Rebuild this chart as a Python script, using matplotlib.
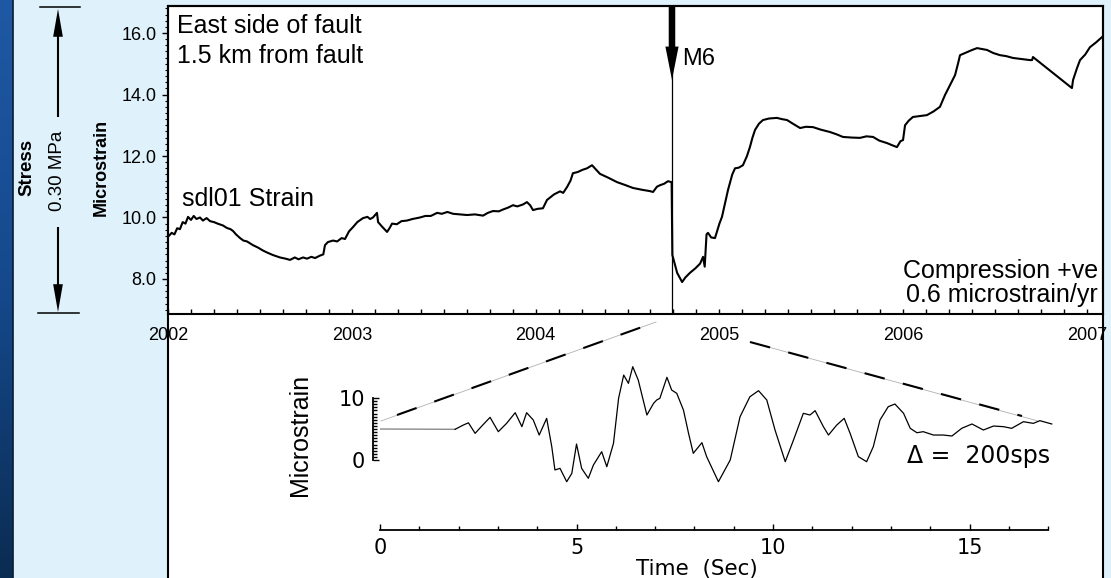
import matplotlib.pyplot as plt
import numpy as np
from matplotlib.patches import Rectangle, FancyArrowPatch
from matplotlib.colors import LinearSegmentedColormap
from matplotlib.ticker import MultipleLocator, FixedLocator, FormatStrFormatter
from matplotlib.transforms import blended_transform_factory

plt.rcParams['font.family'] = ['Liberation Sans', 'DejaVu Sans']

# sdl01 strain record (decimal year, microstrain)
years = [2002.000, 2002.020, 2002.035, 2002.050, 2002.065, 2002.080, 2002.095, 2002.109,
         2002.125, 2002.140, 2002.155, 2002.174, 2002.190, 2002.210, 2002.229, 2002.250,
         2002.270, 2002.299, 2002.320, 2002.340, 2002.354, 2002.370, 2002.392, 2002.410,
         2002.430, 2002.462, 2002.490, 2002.515, 2002.539, 2002.570, 2002.590, 2002.609,
         2002.640, 2002.664, 2002.690, 2002.710, 2002.735, 2002.756, 2002.780, 2002.800,
         2002.827, 2002.845, 2002.854, 2002.870, 2002.898, 2002.920, 2002.945, 2002.963,
         2002.985, 2003.007, 2003.030, 2003.061, 2003.085, 2003.100, 2003.115, 2003.137,
         2003.143, 2003.165, 2003.192, 2003.205, 2003.219, 2003.245, 2003.270, 2003.300,
         2003.330, 2003.371, 2003.400, 2003.430, 2003.464, 2003.490, 2003.520, 2003.551,
         2003.590, 2003.627, 2003.670, 2003.714, 2003.740, 2003.768, 2003.800, 2003.823,
         2003.850, 2003.877, 2003.900, 2003.930, 2003.953, 2003.970, 2003.986, 2004.010,
         2004.040, 2004.062, 2004.100, 2004.133, 2004.150, 2004.171, 2004.190, 2004.203,
         2004.230, 2004.255, 2004.280, 2004.307, 2004.330, 2004.350, 2004.400, 2004.443,
         2004.490, 2004.530, 2004.580, 2004.620, 2004.639, 2004.660, 2004.677, 2004.700,
         2004.720, 2004.740,
         2004.744, 2004.770, 2004.797, 2004.815, 2004.840, 2004.870, 2004.895, 2004.911,
         2004.920, 2004.930, 2004.938, 2004.955, 2004.976, 2005.000, 2005.014, 2005.030,
         2005.047, 2005.070, 2005.085, 2005.105, 2005.128, 2005.150, 2005.166, 2005.180,
         2005.194, 2005.215, 2005.237, 2005.270, 2005.313, 2005.340, 2005.368, 2005.400,
         2005.439, 2005.470, 2005.509, 2005.550, 2005.602, 2005.640, 2005.672, 2005.720,
         2005.765, 2005.800, 2005.836, 2005.870, 2005.912, 2005.940, 2005.966, 2005.985,
         2005.999, 2006.010, 2006.030, 2006.053, 2006.090, 2006.129, 2006.165, 2006.200,
         2006.227, 2006.255, 2006.282, 2006.300, 2006.309, 2006.347, 2006.375, 2006.402,
         2006.430, 2006.456, 2006.490, 2006.527, 2006.560, 2006.597, 2006.650, 2006.690,
         2006.701, 2006.706, 2006.918, 2006.924, 2006.945, 2006.962, 2006.990, 2007.016,
         2007.050, 2007.082]
strain = [9.37, 9.50, 9.45, 9.65, 9.62, 9.85, 9.80, 10.02,
          9.92, 10.05, 9.95, 10.00, 9.90, 9.98, 9.88, 9.85,
          9.80, 9.74, 9.66, 9.62, 9.56, 9.45, 9.33, 9.25,
          9.22, 9.10, 9.02, 8.93, 8.86, 8.78, 8.74, 8.70,
          8.66, 8.62, 8.70, 8.64, 8.70, 8.66, 8.72, 8.68,
          8.76, 8.80, 9.10, 9.20, 9.25, 9.22, 9.33, 9.30,
          9.55, 9.69, 9.85, 9.98, 10.02, 9.95, 10.00, 10.15,
          9.85, 9.70, 9.53, 9.65, 9.80, 9.78, 9.88, 9.90,
          9.95, 10.00, 10.05, 10.05, 10.15, 10.12, 10.18, 10.12,
          10.10, 10.08, 10.10, 10.06, 10.15, 10.21, 10.20, 10.26,
          10.32, 10.40, 10.36, 10.42, 10.50, 10.40, 10.24, 10.28,
          10.30, 10.57, 10.75, 10.85, 10.80, 10.99, 11.20, 11.44,
          11.48, 11.55, 11.60, 11.70, 11.55, 11.42, 11.28, 11.15,
          11.05, 10.96, 10.90, 10.86, 10.83, 11.00, 11.05, 11.10,
          11.18, 11.15,
          8.78, 8.20, 7.90, 8.05, 8.20, 8.35, 8.50, 8.72,
          8.40, 9.45, 9.50, 9.35, 9.33, 9.80, 10.02, 10.45,
          10.90, 11.40, 11.60, 11.62, 11.70, 12.00, 12.29, 12.60,
          12.85, 13.05, 13.17, 13.22, 13.24, 13.20, 13.17, 13.05,
          12.91, 12.95, 12.94, 12.86, 12.78, 12.70, 12.62, 12.60,
          12.59, 12.64, 12.62, 12.50, 12.42, 12.35, 12.29, 12.48,
          12.52, 13.00, 13.15, 13.27, 13.30, 13.33, 13.45, 13.60,
          13.98, 14.31, 14.63, 15.05, 15.28, 15.38, 15.45, 15.51,
          15.48, 15.45, 15.35, 15.28, 15.25, 15.19, 15.15, 15.12,
          15.12, 15.22, 14.21, 14.47, 14.85, 15.12, 15.30, 15.54,
          15.70, 15.87]
quake_year = 2004.742
year_ticks = [2002, 2003, 2004, 2005, 2006, 2007]

# 200 sps record of the M6 (seconds, microstrain)
seis_t = [0.00, 1.91, 2.12, 2.25, 2.42, 2.59, 2.80, 3.01, 3.22, 3.44, 3.61, 3.73, 3.90,
          4.05, 4.24, 4.37, 4.45, 4.58, 4.75, 4.88, 5.00, 5.13, 5.30, 5.43, 5.64, 5.77,
          5.94, 6.07, 6.20, 6.32, 6.43, 6.57, 6.79, 6.96, 7.04, 7.12, 7.30, 7.42, 7.55,
          7.72, 7.85, 7.97, 8.19, 8.31, 8.61, 8.91, 9.16, 9.41, 9.63, 9.84, 10.05, 10.31,
          10.52, 10.77, 10.94, 11.07, 11.28, 11.41, 11.62, 11.81, 11.96, 12.17, 12.38,
          12.55, 12.72, 12.93, 13.10, 13.32, 13.49, 13.66, 13.82, 14.08, 14.33, 14.55,
          14.80, 15.06, 15.35, 15.61, 15.86, 16.07, 16.37, 16.62, 16.79, 17.09]
seis_v = [5.0, 4.95, 5.64, 6.00, 4.30, 5.48, 6.88, 4.57, 5.91, 7.63, 5.38, 7.63, 6.45,
          4.03, 6.72, 2.15, -1.60, -1.35, -3.50, -2.15, 2.58, -1.35, -2.95, -0.80, 1.34, -1.08,
          2.69, 9.95, 13.70, 12.37, 15.05, 12.90, 7.26, 9.14, 9.68, 9.95, 13.34, 11.29, 10.75,
          8.06, 4.30, 1.08, 2.80, 0.54, -3.50, 0.00, 6.98, 10.20, 11.18, 9.68, 4.84, -0.27,
          3.23, 7.53, 7.26, 7.96, 5.38, 4.03, 5.64, 6.72, 4.30, 0.54, -0.27,
          2.15, 6.45, 8.60, 9.03, 7.53, 5.11, 4.40, 4.57, 4.03, 4.03, 3.87,
          5.11, 5.81, 4.84, 5.48, 5.38, 5.11, 6.18, 5.91, 6.34, 5.81]
sec_ticks = [0, 5, 10, 15]

W, H = 1111, 578
fig = plt.figure(figsize=(W / 100, H / 100), dpi=100)

# background layer in pixel coordinates
bg = fig.add_axes([0, 0, 1, 1], zorder=0)
bg.add_patch(Rectangle((0, 0), W, H, color='#dff1fb', zorder=0))
strip = LinearSegmentedColormap.from_list('strip', ['#1f58a4', '#15498c', '#0b2c52'])
bg.imshow(np.linspace(0, 1, 256).reshape(-1, 1), extent=(0, 13, H, 0),
          aspect='auto', cmap=strip, zorder=1)
bg.plot([13, 13], [0, H], color='#0a1c33', lw=1.2, zorder=2)
bg.add_patch(Rectangle((168, 6), 1103 - 168, H, facecolor='white',
                       edgecolor='black', lw=1.5, zorder=1))
bg.set_xlim(0, W)
bg.set_ylim(H, 0)
bg.axis('off')

# stress scale bar
bg.plot([40, 80], [6.5, 6.5], color='k', lw=1.1)
bg.plot([38, 79], [313, 313], color='k', lw=1.1)
for a, b in [((58, 117), (58, 9)), ((58, 227), (58, 312))]:
    bg.add_patch(FancyArrowPatch(a, b, arrowstyle='simple,head_length=20,head_width=7,tail_width=1.5',
                                 mutation_scale=1, color='k', lw=0, shrinkA=0, shrinkB=0))
bg.text(27, 167, 'Stress', rotation=90, ha='center', va='center',
        fontsize=13.5, fontweight='bold')
bg.text(58, 171, '0.30 MPa', rotation=90, ha='center', va='center', fontsize=13.5)
bg.text(101, 167, 'Microstrain', rotation=90, ha='center', va='center',
        fontsize=13, fontweight='bold')

# zoom lines from the main record to the seismogram
for (x0, y0), (x1, y1), (dx0, dy0), (dx1, dy1) in [
        ((381, 421), (656, 322), (397, 415), (656, 322)),
        ((750, 342), (1038, 421), (750, 342), (1022, 416))]:
    bg.plot([x0, x1], [y0, y1], color='#b0b0b0', lw=0.6)
    bg.plot([dx0, dx1], [dy0, dy1], color='k', lw=1.5, linestyle=(0, (10, 9)))

# main strain record
ax = fig.add_axes([168 / W, 1 - 314 / H, (1103 - 168) / W, 308 / H], zorder=2)
ax.set_facecolor('none')
ax.plot(years, strain, color='k', lw=1.5)
ax.axvline(quake_year, color='k', lw=0.9)
ax.set_xlim(2002, 2007.087)
ax.set_ylim(6.86, 16.88)
ax.set_xticks(year_ticks)
ax.xaxis.set_minor_locator(MultipleLocator(0.125))
ax.yaxis.set_major_locator(MultipleLocator(2))
ax.yaxis.set_minor_locator(MultipleLocator(0.2))
ax.yaxis.set_major_formatter(FormatStrFormatter('%.1f'))
ax.tick_params(axis='x', which='both', direction='in', length=3.6, width=1, pad=9, labelsize=13)
ax.tick_params(axis='y', which='major', direction='out', length=4.3, width=1, pad=4, labelsize=13)
ax.tick_params(axis='y', which='minor', direction='out', length=2.2, width=0.8)
for s in ax.spines.values():
    s.set_linewidth(1.5)
arrow_tf = blended_transform_factory(ax.transData, ax.transAxes)
ax.add_patch(FancyArrowPatch((quake_year, 1.0), (quake_year, 0.76), transform=arrow_tf,
                             arrowstyle='simple,head_length=24,head_width=9.5,tail_width=4.7',
                             mutation_scale=1, color='k', lw=0, shrinkA=0, shrinkB=0,
                             clip_on=False))

bg.text(177, 33, 'East side of fault', fontsize=18, va='baseline')
bg.text(177, 63, '1.5 km from fault', fontsize=18, va='baseline')
bg.text(182, 206, 'sdl01 Strain', fontsize=18, va='baseline')
bg.text(682, 65, 'M6', fontsize=17, va='baseline')
bg.text(1098, 278, 'Compression +ve', fontsize=18, ha='right', va='baseline')
bg.text(1098, 302, '0.6 microstrain/yr', fontsize=18, ha='right', va='baseline')

# seismogram inset
ins = fig.add_axes([380 / W, 1 - 540 / H, (1060 - 380) / W, 180 / H], zorder=2)
ins.set_facecolor('none')
ins.plot(seis_t[:2], seis_v[:2], color='#8a8a8a', lw=1.0)
ins.plot(seis_t[1:], seis_v[1:], color='k', lw=0.9)
ins.set_xlim(0, 17.30)
ins.set_ylim(-12.9, 16.13)
for s in ['top', 'right']:
    ins.spines[s].set_visible(False)
ins.spines['bottom'].set_position(('data', -11.29))
ins.spines['bottom'].set_bounds(0, 17)
ins.spines['left'].set_position(('outward', 5))
ins.spines['left'].set_bounds(0, 10)
for s in ['bottom', 'left']:
    ins.spines[s].set_linewidth(1.3)
ins.set_xticks(sec_ticks)
ins.xaxis.set_minor_locator(FixedLocator(np.arange(0, 18)))
ins.yaxis.set_major_locator(FixedLocator([0, 10]))
ins.yaxis.set_minor_locator(FixedLocator(np.arange(0, 10.01, 0.5)))
ins.tick_params(which='both', direction='in', width=1)
ins.tick_params(which='major', length=4.5, pad=6, labelsize=15, labelfontfamily='DejaVu Sans')
ins.tick_params(which='minor', length=2.6)
ins.tick_params(axis='y', which='major', length=4.0)

bg.text(300, 435, 'Microstrain', rotation=90, ha='center', va='center', fontsize=18,
        family=['Liberation Sans Narrow', 'Liberation Sans'])
bg.text(697, 575, 'Time  (Sec)', ha='center', va='baseline', fontsize=15.5, family='DejaVu Sans')
bg.text(907, 463, '\u0394 =  200sps', ha='left', va='baseline', fontsize=17, family='DejaVu Sans')

fig.savefig('out.png', dpi=100)
